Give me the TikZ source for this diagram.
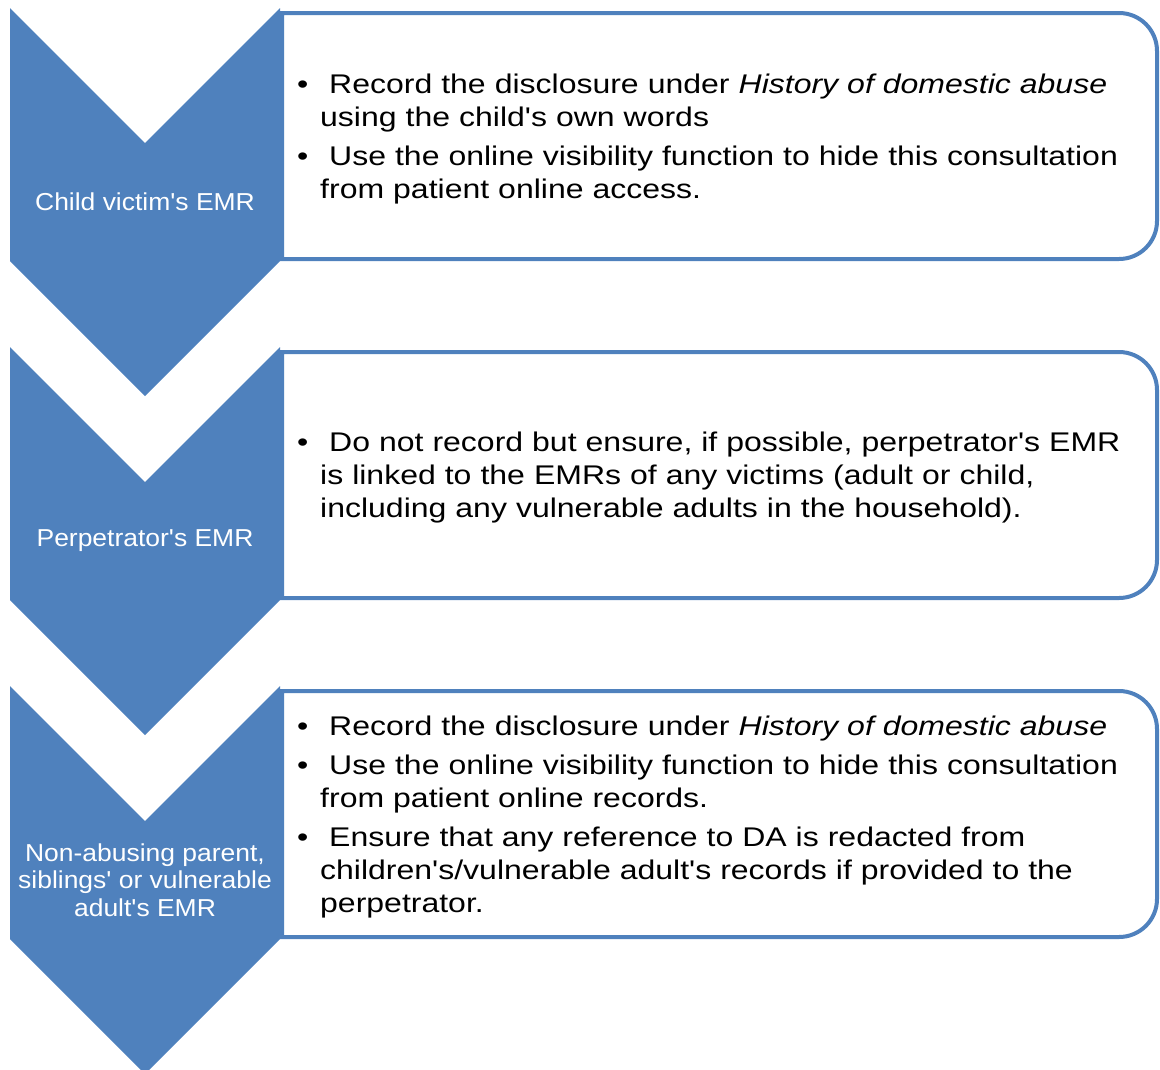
\documentclass[tikz,border=0pt]{standalone}
\usepackage{fontspec}
\setmainfont{Liberation Sans}
\newfontfamily\bodyfont{Liberation Sans}[FakeStretch=1.185]
\newfontfamily\lblfont{Liberation Sans}[FakeStretch=1.08]
\definecolor{accent}{HTML}{4F81BD}
\newcommand\bul{\makebox[23pt][l]{\textbullet}\ }
\newcommand\cont{\hspace*{23pt}}
\newcommand\q{\char39\relax}
\begin{document}
\begin{tikzpicture}[x=1pt,y=-1pt,
  chev/.style={fill=accent,draw=none},
  listbox/.style={draw=accent,line width=4pt,fill=white},
  lbl/.style={text=white,font=\lblfont\fontsize{24.5}{27.5}\selectfont,align=center,inner sep=0pt},
  txt/.style={text=black,font=\bodyfont\fontsize{27}{33}\selectfont,align=left,text width=860pt,inner sep=0pt}]
\useasboundingbox (0,0) rectangle (1160,1069);
\clip (0,0) rectangle (1160,1069);
\foreach \o/\n in {0/1,339/2,678/3}{
  \begin{scope}[yshift=-\o pt]
    \draw[listbox] (282,13) -- (1119,13) arc[start angle=-90,end angle=0,radius=38] -- (1157,221) arc[start angle=0,end angle=90,radius=38] -- (282,259) -- cycle;
    \fill[chev] (10,8) -- (145,143) -- (280,8) -- (280,261) -- (145,396) -- (10,261) -- cycle;
    \coordinate (c\n) at (145,202);
  \end{scope}
}
\node[lbl] (l1) at (c1) {Child victim\q s EMR};
\node[lbl] (l2) at (c2) {Perpetrator\q s EMR};
\node[lbl] (l3) at (c3) {Non-abusing parent,\\siblings\q\ or vulnerable\\adult\q s EMR};
\node[txt,anchor=base west] (t1) at (297,93) {\bul Record the disclosure under \textit{History of domestic abuse}\\
\cont using the child\q s own words\\[6pt]
\bul Use the online visibility function to hide this consultation\\
\cont from patient online access.};
\node[txt,anchor=base west] (t2) at (297,451) {\bul Do not record but ensure, if possible, perpetrator\q s EMR\\
\cont is linked to the EMRs of any victims (adult or child,\\
\cont including any vulnerable adults in the household).};
\node[txt,anchor=base west] (t3) at (297,735) {\bul Record the disclosure under \textit{History of domestic abuse}\\[6pt]
\bul Use the online visibility function to hide this consultation\\
\cont from patient online records.\\[6pt]
\bul Ensure that any reference to DA is redacted from\\
\cont children\q s/vulnerable adult\q s records if provided to the\\
\cont perpetrator.};
\end{tikzpicture}
\end{document}
